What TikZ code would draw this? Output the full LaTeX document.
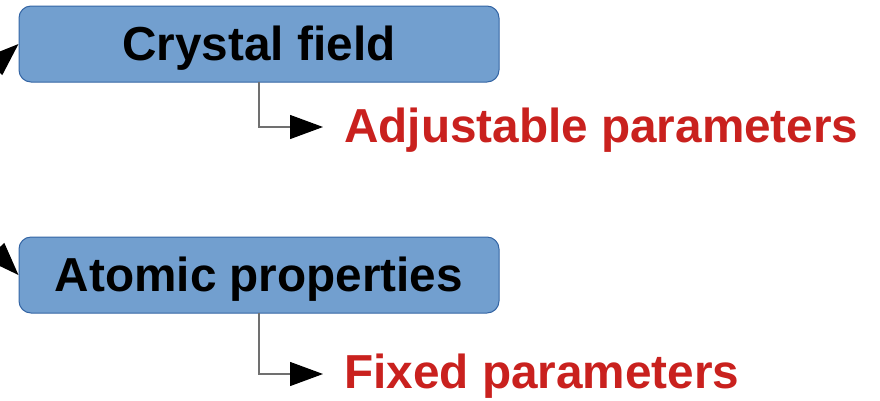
\documentclass[tikz,border=0pt]{standalone}
\usepackage{fontspec}
\setmainfont{Liberation Sans}
\usetikzlibrary{arrows.meta}
\definecolor{boxfill}{HTML}{729FCF}
\definecolor{boxline}{HTML}{3465A4}
\definecolor{pred}{HTML}{C9211E}
\definecolor{conn}{HTML}{707070}
\tikzset{
  bigtext/.style={font=\fontsize{47.7}{57}\selectfont\bfseries},
  blockbox/.style={draw=boxline, fill=boxfill, line width=1pt, rounded corners=12pt,
    minimum width=480pt, minimum height=76pt, inner sep=0pt, bigtext, text=black,
    text height=35pt, text depth=3pt},
  paramlabel/.style={bigtext, text=pred, anchor=base west, inner sep=0pt},
  connline/.style={draw=conn, line width=1.3pt, -{Triangle[length=33pt,width=24pt,color=black]}},
  sidearrow/.style={draw=black, line width=1.5pt, -{Triangle[length=33pt,width=24pt]}}
}
\begin{document}
\begin{tikzpicture}[x=1pt,y=-1pt]
\useasboundingbox (0,0) rectangle (880,400);
\clip (0,0) rectangle (880,400);
\node[blockbox] (cf) at (259,44) {Crystal field};
\node[blockbox] (ap) at (259,275) {Atomic properties};
\node[paramlabel] (adj) at (344,142) {Adjustable parameters};
\node[paramlabel] (fix) at (344,388) {Fixed parameters};
\coordinate (cfb) at (259,82);
\coordinate (apb) at (259,313);
\coordinate (adjt) at (323,127);
\coordinate (fixt) at (323,374);
\draw[connline] (cfb) |- (adjt);
\draw[connline] (apb) |- (fixt);
\coordinate (s1) at (-40,97);
\coordinate (s2) at (-30,225);
\draw[sidearrow] (s1) -- (cf.west);
\draw[sidearrow] (s2) -- (ap.west);
\end{tikzpicture}
\end{document}
